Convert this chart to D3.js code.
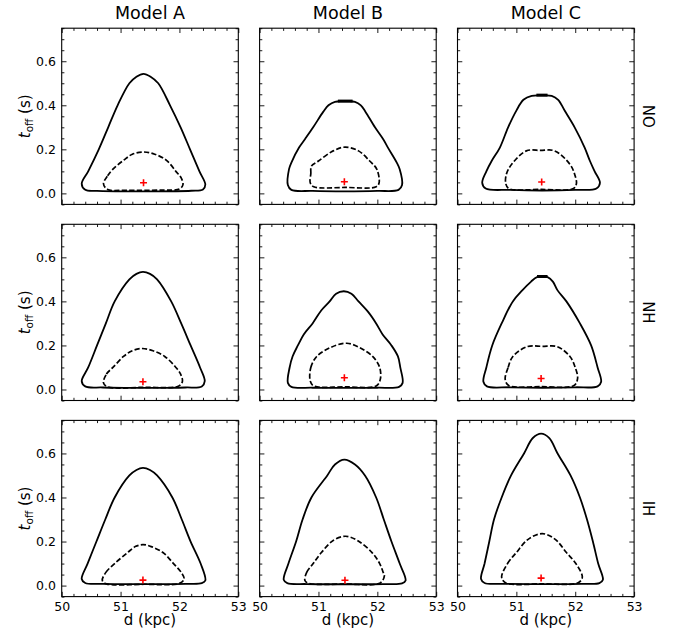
<!DOCTYPE html>
<html>
<head>
<meta charset="utf-8">
<script src="https://cdn.jsdelivr.net/npm/d3@7"></script>
<style>
  html, body { margin: 0; padding: 0; background: #fff; }
  svg { display: block; font-family: "DejaVu Sans", sans-serif; }
</style>
</head>
<body>
<svg id="chart" width="678" height="637"></svg>
<script>
// ---------------- DATA ----------------
const models = ["Model A", "Model B", "Model C"];
const orderings = ["NO", "NH", "IH"];
const xMajorTicks = [50, 51, 52, 53];
const yMajorTicks = [0.0, 0.2, 0.4, 0.6];
const xDomain = [50, 53];
const yDomain = [-0.05, 0.75];

// contours: [d (kpc), t_off (s)]
const outerA_NO = [[50.34,0.044],[50.45,0.10],[50.63,0.20],[50.79,0.30],[50.95,0.40],[51.15,0.50],[51.27,0.53],[51.39,0.543],[51.51,0.53],[51.64,0.50],[51.84,0.40],[52.02,0.30],[52.18,0.20],[52.34,0.10],[52.44,0.04],[52.40,0.018],[52.2,0.012],[51.4,0.009],[50.6,0.011],[50.40,0.016]];
const innerA_NO = [[50.71,0.044],[50.78,0.08],[50.87,0.11],[51.05,0.15],[51.2,0.178],[51.39,0.188],[51.58,0.178],[51.78,0.15],[51.94,0.10],[52.03,0.07],[52.06,0.04],[52.0,0.02],[51.7,0.015],[51.1,0.014],[50.78,0.018]];
const outerB_NO = [[50.48,0.038],[50.50,0.11],[50.54,0.14],[50.67,0.208],[50.77,0.246],[50.91,0.30],[51.08,0.37],[51.17,0.40],[51.28,0.416],[51.45,0.418],[51.62,0.416],[51.72,0.40],[51.80,0.37],[51.96,0.30],[52.10,0.246],[52.18,0.208],[52.33,0.14],[52.38,0.11],[52.42,0.038],[52.36,0.016],[52.0,0.011],[51.45,0.009],[50.9,0.011],[50.54,0.016]];
const innerB_NO = [[50.86,0.048],[50.87,0.09],[50.88,0.124],[51.0,0.147],[51.25,0.193],[51.45,0.21],[51.68,0.193],[51.87,0.147],[51.99,0.11],[52.03,0.048],[51.98,0.03],[51.45,0.027],[50.92,0.03]];
const outerC_NO = [[50.42,0.048],[50.49,0.10],[50.58,0.147],[50.72,0.208],[50.86,0.30],[51.0,0.376],[51.12,0.425],[51.26,0.443],[51.43,0.445],[51.60,0.443],[51.71,0.425],[51.82,0.376],[51.99,0.30],[52.16,0.208],[52.25,0.147],[52.33,0.10],[52.42,0.048],[52.36,0.022],[52.0,0.016],[51.43,0.013],[50.9,0.016],[50.48,0.022]];
const innerC_NO = [[50.82,0.044],[50.83,0.087],[50.92,0.132],[51.17,0.193],[51.41,0.195],[51.65,0.193],[51.91,0.132],[51.99,0.087],[52.02,0.044],[51.97,0.022],[51.42,0.018],[50.87,0.022]];

const outerA_NH = [[50.34,0.038],[50.45,0.10],[50.60,0.20],[50.75,0.30],[50.90,0.40],[51.15,0.50],[51.27,0.525],[51.38,0.534],[51.50,0.525],[51.62,0.50],[51.86,0.40],[52.03,0.30],[52.19,0.20],[52.35,0.10],[52.43,0.038],[52.38,0.014],[52.1,0.009],[51.4,0.007],[50.7,0.009],[50.40,0.014]];
const innerA_NH = [[50.71,0.03],[50.76,0.07],[50.87,0.10],[51.05,0.15],[51.2,0.176],[51.37,0.186],[51.55,0.176],[51.75,0.15],[51.94,0.10],[52.02,0.07],[52.05,0.035],[51.98,0.015],[51.4,0.01],[50.78,0.012]];
const outerB_NH = [[50.48,0.03],[50.51,0.10],[50.56,0.15],[50.65,0.20],[50.75,0.25],[50.9,0.30],[51.05,0.36],[51.19,0.40],[51.3,0.435],[51.43,0.446],[51.56,0.435],[51.68,0.40],[51.85,0.35],[51.98,0.30],[52.09,0.25],[52.24,0.20],[52.35,0.15],[52.39,0.10],[52.43,0.03],[52.37,0.012],[52.0,0.008],[51.45,0.007],[50.9,0.008],[50.54,0.012]];
const innerB_NH = [[50.86,0.038],[50.87,0.10],[50.97,0.15],[51.2,0.19],[51.48,0.21],[51.7,0.19],[51.92,0.15],[52.04,0.10],[52.05,0.046],[51.98,0.016],[51.45,0.012],[50.92,0.016]];
const outerC_NH = [[50.44,0.035],[50.49,0.10],[50.59,0.20],[50.75,0.30],[50.94,0.40],[51.10,0.45],[51.25,0.49],[51.35,0.510],[51.44,0.512],[51.53,0.510],[51.62,0.49],[51.70,0.45],[51.85,0.40],[52.08,0.30],[52.27,0.20],[52.38,0.10],[52.44,0.035],[52.38,0.014],[52.0,0.01],[51.44,0.008],[50.9,0.01],[50.5,0.014]];
const innerC_NH = [[50.81,0.046],[50.86,0.10],[50.94,0.15],[51.19,0.195],[51.44,0.196],[51.69,0.195],[51.91,0.15],[52.0,0.10],[52.04,0.05],[51.98,0.018],[51.42,0.013],[50.87,0.018]];

const outerA_IH = [[50.34,0.03],[50.44,0.10],[50.59,0.20],[50.74,0.30],[50.90,0.40],[51.15,0.50],[51.27,0.525],[51.38,0.534],[51.50,0.525],[51.62,0.50],[51.88,0.40],[52.04,0.30],[52.19,0.20],[52.36,0.10],[52.44,0.023],[52.38,0.011],[52.1,0.008],[51.4,0.007],[50.7,0.008],[50.40,0.012]];
const innerA_IH = [[50.69,0.023],[50.75,0.06],[50.9,0.10],[51.12,0.15],[51.25,0.177],[51.38,0.186],[51.52,0.177],[51.72,0.15],[51.9,0.10],[52.03,0.06],[52.08,0.03],[52.0,0.01],[51.4,0.006],[50.76,0.008]];
const outerB_IH = [[50.41,0.026],[50.49,0.10],[50.62,0.20],[50.73,0.30],[50.88,0.40],[51.15,0.50],[51.28,0.55],[51.44,0.572],[51.62,0.55],[51.79,0.50],[51.98,0.40],[52.11,0.30],[52.24,0.20],[52.38,0.10],[52.48,0.023],[52.42,0.01],[52.1,0.007],[51.45,0.006],[50.8,0.007],[50.47,0.011]];
const innerB_IH = [[50.77,0.023],[50.8,0.06],[50.91,0.10],[51.05,0.15],[51.25,0.205],[51.46,0.224],[51.66,0.205],[51.91,0.15],[52.04,0.10],[52.1,0.06],[52.12,0.045],[52.05,0.012],[51.45,0.007],[50.84,0.01]];
const outerC_IH = [[50.40,0.03],[50.46,0.10],[50.54,0.20],[50.62,0.30],[50.75,0.40],[50.91,0.50],[51.13,0.60],[51.28,0.67],[51.42,0.69],[51.56,0.67],[51.70,0.60],[51.92,0.50],[52.08,0.40],[52.20,0.30],[52.30,0.20],[52.39,0.10],[52.47,0.026],[52.41,0.011],[52.1,0.008],[51.42,0.007],[50.75,0.008],[50.46,0.012]];
const innerC_IH = [[50.75,0.038],[50.85,0.10],[51.0,0.15],[51.2,0.21],[51.44,0.236],[51.66,0.21],[51.85,0.15],[52.01,0.10],[52.12,0.038],[52.05,0.013],[51.44,0.008],[50.82,0.012]];

// short thick caps seen at the top of some outer contours
const capB_NO = [[51.33,0.419],[51.58,0.419]];
const capC_NO = [[51.34,0.446],[51.53,0.446]];
const capC_NH = [[51.35,0.513],[51.53,0.513]];

// best-fit markers per row (NO, NH, IH) x column (A, B, C)
const bestFitNO = [[51.39,0.048],[51.44,0.053],[51.43,0.052]];
const bestFitNH = [[51.38,0.035],[51.44,0.053],[51.42,0.050]];
const bestFitIH = [[51.38,0.025],[51.45,0.024],[51.42,0.034]];

// ---------------- LAYOUT ----------------
const outer = {
  NO: [outerA_NO, outerB_NO, outerC_NO],
  NH: [outerA_NH, outerB_NH, outerC_NH],
  IH: [outerA_IH, outerB_IH, outerC_IH]
};
const inner = {
  NO: [innerA_NO, innerB_NO, innerC_NO],
  NH: [innerA_NH, innerB_NH, innerC_NH],
  IH: [innerA_IH, innerB_IH, innerC_IH]
};
const caps = {
  NO: [null, capB_NO, capC_NO],
  NH: [null, null, capC_NH],
  IH: [null, null, null]
};
const best = { NO: bestFitNO, NH: bestFitNH, IH: bestFitIH };

const colLeft = [61.7, 259.6, 457.5];
const rowTop = [28.2, 224.3, 420.4];
const pw = 176.6, ph = 176.2;

const svg = d3.select("#chart");
const x = d3.scaleLinear().domain(xDomain).range([0, pw]);
const y = d3.scaleLinear().domain(yDomain).range([ph, 0]);

const xMinor = d3.range(50, 53.001, 0.2).map(v => +v.toFixed(2)).filter(v => !xMajorTicks.some(m => Math.abs(m - v) < 1e-6));
const yMinor = d3.range(-0.05, 0.7501, 0.05).map(v => +v.toFixed(2)).filter(v => !yMajorTicks.some(m => Math.abs(m - v) < 1e-6));

const line = d3.line().x(d => x(d[0])).y(d => y(d[1])).curve(d3.curveCatmullRomClosed.alpha(0.5));
const segLine = d3.line().x(d => x(d[0])).y(d => y(d[1]));

const MAJ = 4.8, MIN = 2.7;

orderings.forEach((ord, r) => {
  models.forEach((m, c) => {
    const g = svg.append("g").attr("transform", `translate(${colLeft[c]},${rowTop[r]})`);

    // contours
    g.append("path").attr("d", line(outer[ord][c]))
      .attr("fill", "none").attr("stroke", "#000").attr("stroke-width", 1.8).attr("stroke-linejoin", "round");
    if (caps[ord][c]) {
      g.append("path").attr("d", segLine(caps[ord][c]))
        .attr("fill", "none").attr("stroke", "#000").attr("stroke-width", 3);
    }
    g.append("path").attr("d", line(inner[ord][c]))
      .attr("fill", "none").attr("stroke", "#000").attr("stroke-width", 1.7)
      .attr("stroke-dasharray", "5.2,2.3");

    // best fit marker
    const bp = best[ord][c];
    g.append("path")
      .attr("d", `M${x(bp[0]) - 3.5},${y(bp[1])}H${x(bp[0]) + 3.5}M${x(bp[0])},${y(bp[1]) - 3.5}V${y(bp[1]) + 3.5}`)
      .attr("stroke", "#ff0000").attr("stroke-width", 1.6).attr("fill", "none");

    // axes (ticks inward on all sides)
    const showX = r === 2, showY = c === 0;
    const mk = (axis, tr, vals, size, labels, fmt, pad) => {
      const a = axis.tickValues(vals).tickSize(-size).tickPadding(pad)
        .tickFormat(labels ? fmt : () => "");
      const ag = g.append("g").attr("transform", tr).call(a);
      ag.select(".domain").remove();
      ag.selectAll("line").attr("stroke", "#000").attr("stroke-width", 0.9);
      ag.selectAll("text").attr("fill", "#000").attr("font-size", 12.5)
        .attr("font-family", "DejaVu Sans, sans-serif");
      return ag;
    };
    const fx = d3.format("d"), fy = d3.format(".1f");
    mk(d3.axisBottom(x), `translate(0,${ph})`, xMajorTicks, MAJ, showX, fx, 6);
    mk(d3.axisBottom(x), `translate(0,${ph})`, xMinor, MIN, false, fx, 6);
    mk(d3.axisTop(x), `translate(0,0)`, xMajorTicks, MAJ, false, fx, 6);
    mk(d3.axisTop(x), `translate(0,0)`, xMinor, MIN, false, fx, 6);
    mk(d3.axisLeft(y), `translate(0,0)`, yMajorTicks, MAJ, showY, fy, 5.7);
    mk(d3.axisLeft(y), `translate(0,0)`, yMinor, MIN, false, fy, 5.7);
    mk(d3.axisRight(y), `translate(${pw},0)`, yMajorTicks, MAJ, false, fy, 5.7);
    mk(d3.axisRight(y), `translate(${pw},0)`, yMinor, MIN, false, fy, 5.7);

    // frame
    g.append("rect").attr("width", pw).attr("height", ph)
      .attr("fill", "none").attr("stroke", "#000").attr("stroke-width", 1.1);

    if (r === 0) {
      svg.append("text").attr("x", colLeft[c] + pw / 2).attr("y", 19)
        .attr("text-anchor", "middle").attr("font-size", 17.5).attr("fill", "#000").text(m);
    }
    if (showX) {
      svg.append("text").attr("x", colLeft[c] + pw / 2).attr("y", 625)
        .attr("text-anchor", "middle").attr("font-size", 15).attr("fill", "#000").text("d (kpc)");
    }
    if (showY) {
      const t = svg.append("text")
        .attr("transform", `translate(30,${rowTop[r] + ph / 2}) rotate(-90)`)
        .attr("text-anchor", "middle").attr("font-size", 15).attr("fill", "#000");
      t.append("tspan").attr("font-style", "italic").text("t");
      t.append("tspan").attr("font-size", 10.5).attr("dy", 3).text("off");
      t.append("tspan").attr("dy", -3).text(" (s)");
    }
    if (c === 2) {
      svg.append("text")
        .attr("transform", `translate(643,${rowTop[r] + ph / 2}) rotate(90)`)
        .attr("text-anchor", "middle").attr("font-size", 15).attr("fill", "#000").text(ord);
    }
  });
});
</script>
</body>
</html>
